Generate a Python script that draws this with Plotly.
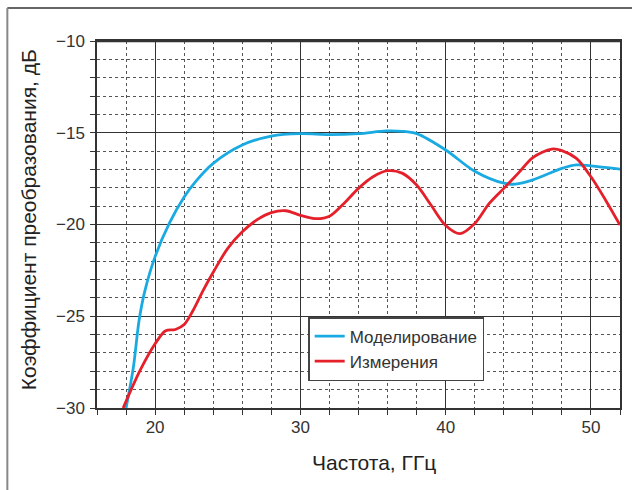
import plotly.graph_objects as go

# Моделирование (simulation)
sim_x = [18, 18.5, 18.9, 19.3, 20, 21, 22, 22.8, 24, 26, 28, 30, 32, 34, 35.9, 37, 38, 40, 42, 44, 44.8, 46, 48, 49, 50, 52]
sim_y = [-30, -27.8, -25.2, -23.6, -21.75, -19.9, -18.5, -17.65, -16.67, -15.67, -15.18, -15.05, -15.1, -15.05, -14.9, -14.92, -15.05, -15.94, -17.1, -17.75, -17.8, -17.57, -16.94, -16.75, -16.8, -16.98]

# Измерения (measurement)
meas_x = [17.8, 19, 20, 20.7, 21.4, 22, 22.6, 23.3, 24, 25, 26, 27, 28, 29, 30, 31, 32, 33, 34, 35, 36, 37, 38, 39, 40, 41, 42, 43, 44, 45, 46, 47.3, 48, 49, 50, 51, 52]
meas_y = [-30, -27.9, -26.5, -25.8, -25.72, -25.45, -24.7, -23.6, -22.6, -21.3, -20.4, -19.75, -19.35, -19.25, -19.5, -19.68, -19.55, -18.85, -18.03, -17.4, -17.07, -17.2, -17.85, -18.95, -20.05, -20.5, -19.95, -18.85, -18.03, -17.2, -16.35, -15.89, -15.97, -16.4, -17.4, -18.66, -20.03]

x_ticks = [20, 30, 40, 50]
y_ticks = [-30, -25, -20, -15, -10]

FONT = "Liberation Sans, Arial, sans-serif"

fig = go.Figure()
fig.add_trace(go.Scatter(x=sim_x, y=sim_y, mode="lines", name="Моделирование",
                         line=dict(color="#1AAAE2", width=2.8, shape="spline", smoothing=0.9)))
fig.add_trace(go.Scatter(x=meas_x, y=meas_y, mode="lines", name="Измерения",
                         line=dict(color="#E5202A", width=2.8, shape="spline", smoothing=0.9)))

L, R, T, B = 97, 10, 41, 82
W, H = 632, 490
pw, ph = W - L - R, H - T - B

axis_common = dict(
    showline=True, linecolor="#333", linewidth=1.5, mirror=True,
    showgrid=True, gridcolor="#333", gridwidth=1.2,
    ticks="outside", ticklen=5, tickcolor="#333", tickwidth=1.2,
    zeroline=False,
    tickfont=dict(family=FONT, size=17, color="#333"),
)

fig.update_layout(
    width=W, height=H,
    margin=dict(l=L, r=R, t=T, b=B),
    paper_bgcolor="white", plot_bgcolor="white",
    showlegend=True,
    legend=dict(x=(309 - L) / pw, y=(H - B - 317) / ph, xanchor="left", yanchor="top",
                bgcolor="white", bordercolor="#444", borderwidth=1.5,
                font=dict(family=FONT, size=17, color="#333"),
                tracegroupgap=0, itemwidth=30),
    xaxis=dict(range=[16, 52], tickvals=x_ticks, ticktext=[str(v) for v in x_ticks],
               ticklabelstandoff=-2,
               minor=dict(dtick=2, tick0=0, showgrid=True, gridcolor="#555", griddash="dot",
                          gridwidth=1, ticks="outside", ticklen=5, tickcolor="#333"),
               **axis_common),
    yaxis=dict(range=[-30, -10], tickvals=y_ticks, ticktext=["\u2212" + str(abs(v)) for v in y_ticks],
               ticklabelstandoff=2,
               minor=dict(dtick=1, tick0=0, showgrid=True, gridcolor="#555", griddash="dot",
                          gridwidth=1, ticks="outside", ticklen=5, tickcolor="#333"),
               **axis_common),
)

# thicker top frame
fig.add_shape(type="line", xref="paper", yref="paper", x0=0, x1=1, y0=1, y1=1,
              line=dict(color="#333", width=2.5))

# outer border (left + top)
bx = (7 - L) / pw
by = (H - B - 8) / ph
fig.add_shape(type="line", xref="paper", yref="paper", x0=bx, x1=(W - L) / pw + 0.05, y0=by, y1=by,
              line=dict(color="#666", width=2))
fig.add_shape(type="line", xref="paper", yref="paper", x0=bx, x1=bx, y0=by, y1=-(B + 5) / ph,
              line=dict(color="#888", width=2))

fig.add_annotation(text="Частота, ГГц", xref="paper", yref="paper",
                   x=(375 - L) / pw, y=(H - B - 462) / ph, showarrow=False,
                   xanchor="center", yanchor="middle",
                   font=dict(family=FONT, size=21, color="#222"))
fig.add_annotation(text="Коэффициент преобразования, дБ", xref="paper", yref="paper",
                   x=(28 - L) / pw, y=(H - B - 220) / ph, showarrow=False, textangle=-90,
                   xanchor="center", yanchor="middle",
                   font=dict(family=FONT, size=21, color="#222"))

fig.write_html("out.html", config={"displayModeBar": False},
               post_script="document.body.style.margin='0px';")
